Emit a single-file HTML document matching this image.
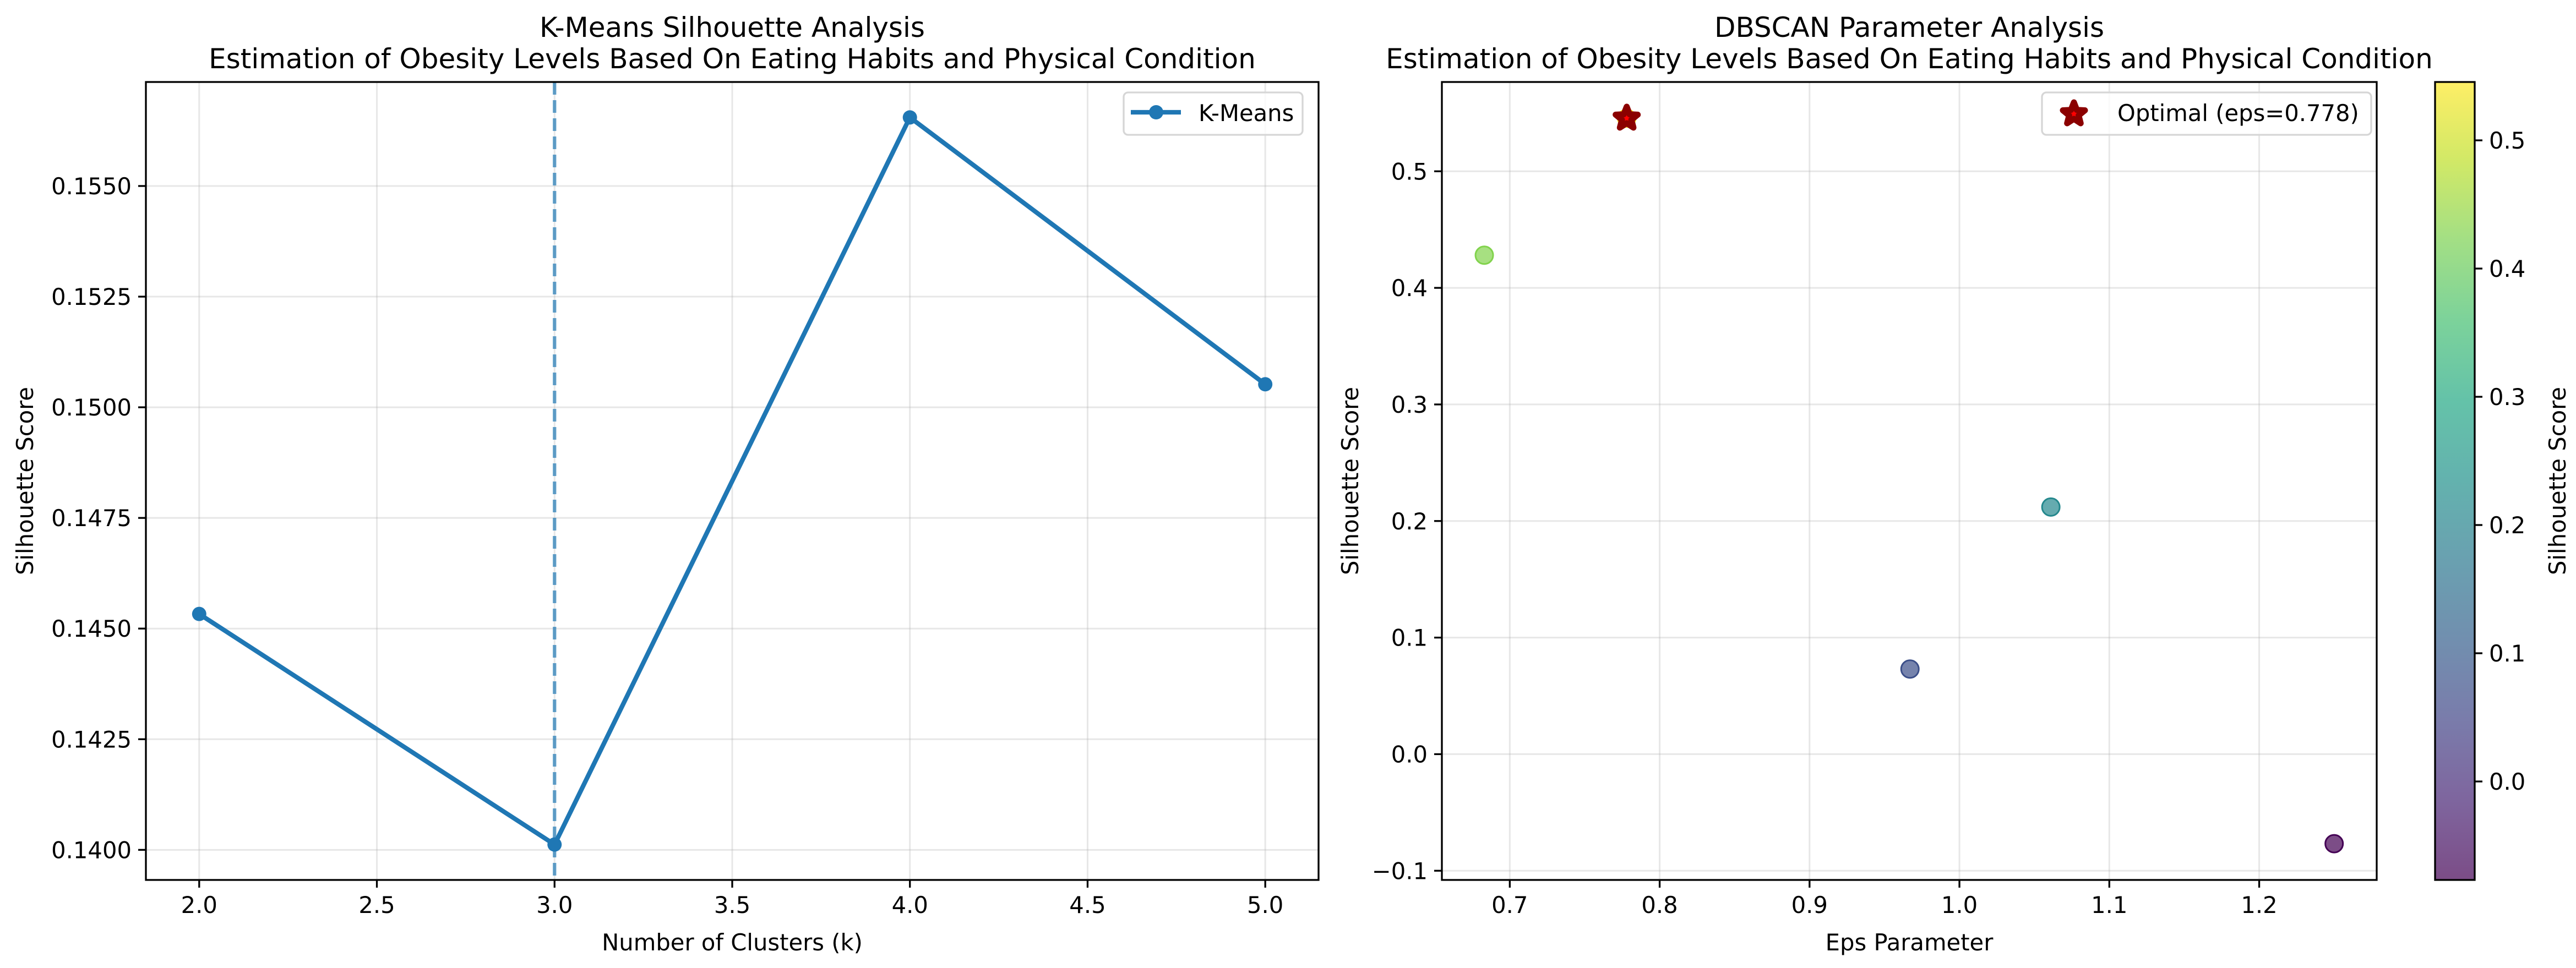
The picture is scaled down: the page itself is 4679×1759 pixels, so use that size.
<!DOCTYPE html>
<html><head><meta charset="utf-8">
<style>
html,body{margin:0;padding:0;background:#fff;}
svg{display:block;font-family:"DejaVu Sans","Liberation Sans",sans-serif;}
</style></head>
<body>
<svg id="fig" width="4679" height="1759" viewBox="0 0 4679 1759" xmlns="http://www.w3.org/2000/svg">
<defs>
<linearGradient id="vir" x1="0" y1="1" x2="0" y2="0">
<stop offset="0" stop-color="#440154"/><stop offset="0.1" stop-color="#482475"/>
<stop offset="0.2" stop-color="#414487"/><stop offset="0.3" stop-color="#355f8d"/>
<stop offset="0.4" stop-color="#2a788e"/><stop offset="0.5" stop-color="#21918c"/>
<stop offset="0.6" stop-color="#22a884"/><stop offset="0.7" stop-color="#44bf70"/>
<stop offset="0.8" stop-color="#7ad151"/><stop offset="0.9" stop-color="#bddf26"/>
<stop offset="1" stop-color="#fde725"/>
</linearGradient>
</defs>
<g id="left"></g>
<g id="right"></g>
<g id="cbar"></g>
</svg>
<script>
const kValues = [2, 3, 4, 5];
const kScores = [0.14533, 0.14012, 0.15655, 0.15052];
const kXTicks = [2.0, 2.5, 3.0, 3.5, 4.0, 4.5, 5.0];
const kYTicks = [0.1400, 0.1425, 0.1450, 0.1475, 0.1500, 0.1525, 0.1550];
const kOptimal = 3;
const epsValues = [0.683, 0.778, 0.967, 1.061, 1.250];
const epsScores = [0.428, 0.5455, 0.073, 0.212, -0.0768];
const epsOptimal = 0.778;
const epsOptimalScore = 0.5455;
const dXTicks = [0.7, 0.8, 0.9, 1.0, 1.1, 1.2];
const dYTicks = [-0.1, 0.0, 0.1, 0.2, 0.3, 0.4, 0.5];
const cbTicks = [0.0, 0.1, 0.2, 0.3, 0.4, 0.5];

const NS = "http://www.w3.org/2000/svg";
function mk(parent, tag, attrs, text){
  const e = document.createElementNS(NS, tag);
  for (const k in attrs) e.setAttribute(k, attrs[k]);
  if (text !== undefined) e.textContent = text;
  parent.appendChild(e);
  return e;
}
const viridis = ["#440154","#482475","#414487","#355f8d","#2a788e","#21918c","#22a884","#44bf70","#7ad151","#bddf26","#fde725"];
function hex(c){return [1,3,5].map(i=>parseInt(c.substr(i,2),16));}
function cmap(t){
  t = Math.max(0, Math.min(1, t));
  const p = t*(viridis.length-1), i = Math.min(Math.floor(p), viridis.length-2), f = p-i;
  const a = hex(viridis[i]), b = hex(viridis[i+1]);
  return "rgb(" + a.map((v,j)=>Math.round(v+(b[j]-v)*f)).join(",") + ")";
}
function starPts(cx, cy, R, r){
  const pts = [];
  for (let i=0;i<10;i++){
    const a = -Math.PI/2 + i*Math.PI/5, rad = i%2===0 ? R : r;
    pts.push((cx+rad*Math.cos(a)).toFixed(1)+","+(cy+rad*Math.sin(a)).toFixed(1));
  }
  return pts.join(" ");
}

// ---------- Left chart ----------
(function(){
  const g = document.getElementById('left');
  const L=265, R=2395, T=149, B=1599;
  const xmin=1.85, xmax=5.15, ymin=0.13932, ymax=0.15735;
  const X = v => L + (v-xmin)/(xmax-xmin)*(R-L);
  const Y = v => B - (v-ymin)/(ymax-ymin)*(B-T);
  const grid = mk(g,'g',{});
  
  
  kXTicks.forEach(t=>{
    mk(grid,'line',{x1:X(t),x2:X(t),y1:T,y2:B,stroke:'#b0b0b0','stroke-opacity':0.3,'stroke-width':3});
    const tk = mk(g,'line',{x1:X(t),x2:X(t),y1:B,y2:B+14,stroke:'#000','stroke-width':3.3});
    
    
    const lb = mk(g,'text',{x:X(t),y:B+60,'font-size':41.7,'text-anchor':'middle'},t.toFixed(1));
    
    
  });
  kYTicks.forEach(t=>{
    mk(grid,'line',{x1:L,x2:R,y1:Y(t),y2:Y(t),stroke:'#b0b0b0','stroke-opacity':0.3,'stroke-width':3});
    const tk = mk(g,'line',{x1:L-14,x2:L,y1:Y(t),y2:Y(t),stroke:'#000','stroke-width':3.3});
    
    
    const lb = mk(g,'text',{x:L-26,y:Y(t)+15,'font-size':41.7,'text-anchor':'end'},t.toFixed(4));
    
    
  });
  const vl = mk(g,'line',{x1:X(kOptimal),x2:X(kOptimal),y1:T,y2:B,stroke:'#1f77b4','stroke-opacity':0.7,'stroke-width':6.25,'stroke-dasharray':'23 10'});
  
  
  const line = mk(g,'polyline',{points:kValues.map((k,i)=>X(k)+","+Y(kScores[i])).join(" "),fill:'none',stroke:'#1f77b4','stroke-width':8.3,'stroke-linejoin':'round'});
  
  
  kValues.forEach((k,i)=>{
    const c = mk(g,'circle',{cx:X(k),cy:Y(kScores[i]),r:13,fill:'#1f77b4'});
    
    
  });
  const fr = mk(g,'rect',{x:L,y:T,width:R-L,height:B-T,fill:'none',stroke:'#000','stroke-width':3.3});
  
  
  const lg = mk(g,'g',{});
  
  
  mk(lg,'rect',{x:2041,y:168,width:325,height:77,rx:8,fill:'#fff','fill-opacity':0.8,stroke:'#d6d6d6','stroke-width':3.3});
  mk(lg,'line',{x1:2054,x2:2145,y1:204,y2:204,stroke:'#1f77b4','stroke-width':8.3});
  mk(lg,'circle',{cx:2100,cy:204,r:13,fill:'#1f77b4'});
  mk(lg,'text',{x:2177,y:220,'font-size':41.7},'K-Means');
  const t1 = mk(g,'text',{x:(L+R)/2,y:67,'font-size':50,'text-anchor':'middle'},'K-Means Silhouette Analysis');
  
  
  const t2 = mk(g,'text',{x:(L+R)/2,y:124,'font-size':50,'text-anchor':'middle'},'Estimation of Obesity Levels Based On Eating Habits and Physical Condition');
  
  
  const xl = mk(g,'text',{x:(L+R)/2,y:1727,'font-size':41.7,'text-anchor':'middle'},'Number of Clusters (k)');
  
  
  const yl = mk(g,'text',{x:0,y:0,'font-size':41.7,'text-anchor':'middle',transform:'translate(60,'+((T+B)/2)+') rotate(-90)'},'Silhouette Score');
  
  
})();

// ---------- Right chart ----------
(function(){
  const g = document.getElementById('right');
  const L=2619, R=4317, T=149, B=1599;
  const xmin=0.6547, xmax=1.2784, ymin=-0.1079, ymax=0.5766;
  const cmin=-0.0768, cmax=0.5455;
  const X = v => L + (v-xmin)/(xmax-xmin)*(R-L);
  const Y = v => B - (v-ymin)/(ymax-ymin)*(B-T);
  const grid = mk(g,'g',{});
  
  
  dXTicks.forEach(t=>{
    mk(grid,'line',{x1:X(t),x2:X(t),y1:T,y2:B,stroke:'#b0b0b0','stroke-opacity':0.3,'stroke-width':3});
    const tk = mk(g,'line',{x1:X(t),x2:X(t),y1:B,y2:B+14,stroke:'#000','stroke-width':3.3});
    
    
    const lb = mk(g,'text',{x:X(t),y:B+60,'font-size':41.7,'text-anchor':'middle'},t.toFixed(1));
    
    
  });
  dYTicks.forEach(t=>{
    mk(grid,'line',{x1:L,x2:R,y1:Y(t),y2:Y(t),stroke:'#b0b0b0','stroke-opacity':0.3,'stroke-width':3});
    const tk = mk(g,'line',{x1:L-14,x2:L,y1:Y(t),y2:Y(t),stroke:'#000','stroke-width':3.3});
    
    
    const lb = mk(g,'text',{x:L-26,y:Y(t)+15,'font-size':41.7,'text-anchor':'end'},(t<0?'\u2212':'')+Math.abs(t).toFixed(1));
    
    
  });
  epsValues.forEach((e,i)=>{
    const col = cmap((epsScores[i]-cmin)/(cmax-cmin));
    const c = mk(g,'circle',{cx:X(e),cy:Y(epsScores[i]),r:16,fill:col,'fill-opacity':0.7,stroke:col,'stroke-width':3});
    
    
  });
  const st = mk(g,'polygon',{points:starPts(X(epsOptimal),Y(epsOptimalScore),21,9),fill:'#ff0000',stroke:'#8b0000','stroke-width':11,'stroke-linejoin':'round'});
  
  
  const fr = mk(g,'rect',{x:L,y:T,width:R-L,height:B-T,fill:'none',stroke:'#000','stroke-width':3.3});
  
  
  const lg = mk(g,'g',{});
  
  
  mk(lg,'rect',{x:3709,y:168,width:598,height:77,rx:8,fill:'#fff','fill-opacity':0.8,stroke:'#d6d6d6','stroke-width':3.3});
  mk(lg,'polygon',{points:starPts(3767,207,21,9),fill:'#ff0000',stroke:'#8b0000','stroke-width':11,'stroke-linejoin':'round'});
  mk(lg,'text',{x:3846,y:220,'font-size':41.7},'Optimal (eps='+epsOptimal.toFixed(3)+')');
  const t1 = mk(g,'text',{x:(L+R)/2,y:67,'font-size':50,'text-anchor':'middle'},'DBSCAN Parameter Analysis');
  
  
  const t2 = mk(g,'text',{x:(L+R)/2,y:124,'font-size':50,'text-anchor':'middle'},'Estimation of Obesity Levels Based On Eating Habits and Physical Condition');
  
  
  const xl = mk(g,'text',{x:(L+R)/2,y:1727,'font-size':41.7,'text-anchor':'middle'},'Eps Parameter');
  
  
  const yl = mk(g,'text',{x:0,y:0,'font-size':41.7,'text-anchor':'middle',transform:'translate(2467,'+((T+B)/2)+') rotate(-90)'},'Silhouette Score');
  
  

  // colorbar
  const cb = document.getElementById('cbar');
  const CL=4423, CR=4495;
  const CY = v => B - (v-cmin)/(cmax-cmin)*(B-T);
  mk(cb,'rect',{x:CL,y:T,width:CR-CL,height:B-T,fill:'url(#vir)','fill-opacity':0.7});
  const cf = mk(cb,'rect',{x:CL,y:T,width:CR-CL,height:B-T,fill:'none',stroke:'#000','stroke-width':3.3});
  
  
  cbTicks.forEach(t=>{
    const tk = mk(cb,'line',{x1:CR,x2:CR+14,y1:CY(t),y2:CY(t),stroke:'#000','stroke-width':3.3});
    
    
    const lb = mk(cb,'text',{x:CR+26,y:CY(t)+15,'font-size':41.7},t.toFixed(1));
    
    
  });
  const cl = mk(cb,'text',{x:0,y:0,'font-size':41.7,'text-anchor':'middle',transform:'translate(4660,'+((T+B)/2)+') rotate(-90)'},'Silhouette Score');
  
  
})();
</script>
</body></html>
